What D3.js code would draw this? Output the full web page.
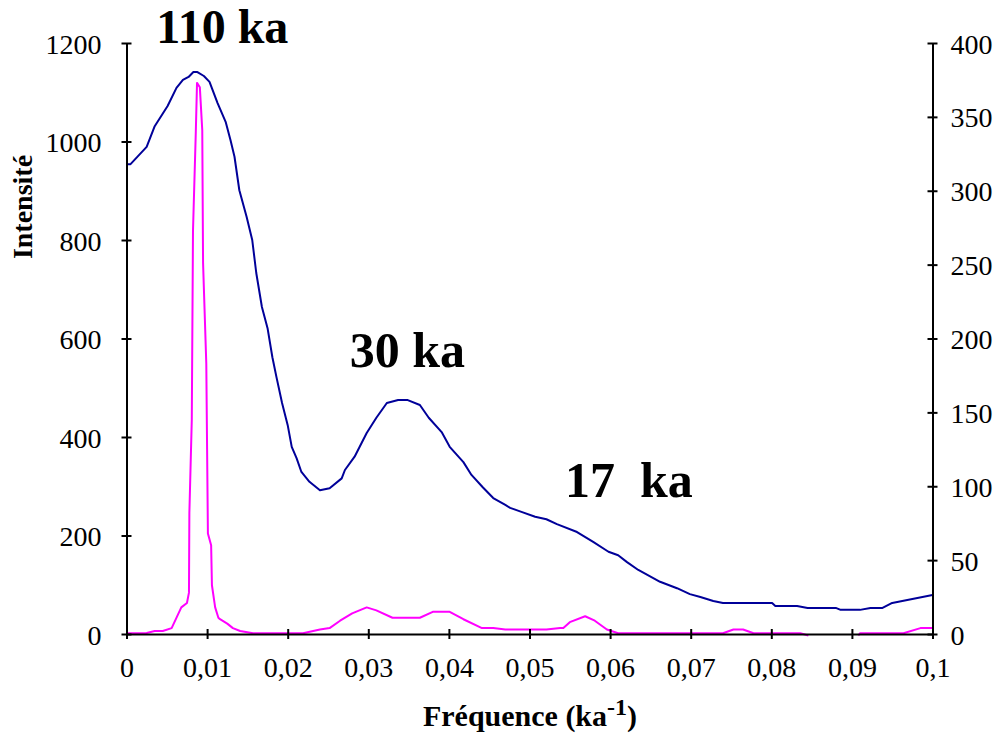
<!DOCTYPE html>
<html><head><meta charset="utf-8">
<script src="https://cdn.jsdelivr.net/npm/d3@7"></script>
<style>
html,body{margin:0;padding:0;background:#fff;}
svg{display:block;font-family:"Liberation Serif","Times New Roman",serif;}
</style>
</head><body>
<svg id="chart" width="1001" height="740"></svg>
<script>
// ---- data ----
const xTicks = [0,0.01,0.02,0.03,0.04,0.05,0.06,0.07,0.08,0.09,0.1];
const xTickLabels = ["0","0,01","0,02","0,03","0,04","0,05","0,06","0,07","0,08","0,09","0,1"];
const leftTicks = [0,200,400,600,800,1000,1200];
const rightTicks = [0,50,100,150,200,250,300,350,400];

const blueFreq = [0,0.0005,0.0025,0.0035,0.0051,0.0062,0.007,0.0077,0.0083,0.0088,0.0096,0.0103,0.0113,0.0123,0.0129,0.0134,0.014,0.0149,0.0156,0.0161,0.0168,0.0175,0.0181,0.0186,0.0193,0.02,0.0205,0.0211,0.0217,0.0227,0.024,0.0252,0.0267,0.0271,0.0283,0.0298,0.031,0.0323,0.0337,0.0349,0.0364,0.0375,0.0391,0.0401,0.0418,0.0428,0.0442,0.0455,0.047,0.0476,0.049,0.0507,0.0521,0.0534,0.0559,0.0579,0.0598,0.061,0.0621,0.0635,0.0662,0.0683,0.0699,0.0712,0.0728,0.074,0.0801,0.0805,0.0832,0.0845,0.088,0.0886,0.091,0.0923,0.0938,0.095,0.1];
const blueIntensity = [954,954,989,1031,1072,1109,1125,1131,1141,1141,1133,1121,1078,1040,1003,969,901,847,800,733,664,621,562,522,469,424,380,357,329,309,292,296,316,333,360,408,439,469,475,475,465,439,410,380,349,323,298,276,262,256,248,238,233,223,207,187,167,160,146,130,106,93,81,75,67,63,63,57,57,53,53,49,49,53,53,63,79];

const pinkFreq = [0,0.0025,0.0035,0.0045,0.0056,0.0068,0.0075,0.00775,0.0078,0.0081,0.00825,0.0086,0.00875,0.0091,0.0094,0.0095,0.0099,0.0100,0.0101,0.0105,0.0106,0.011,0.0114,0.0116,0.0125,0.0132,0.0141,0.0157,0.0219,0.024,0.0252,0.0265,0.028,0.0298,0.031,0.033,0.0364,0.038,0.0401,0.0418,0.0441,0.0455,0.047,0.0521,0.0538,0.0542,0.055,0.0569,0.0581,0.0596,0.061,0.074,0.0753,0.0765,0.0778,0.0836,0.0846,0.0877,0.0908,0.091,0.0964,0.0985,0.1];
const pinkIntensity = [0.5,0.7,2,2,4,18,21,28,82,145,273,340,373,370,341,251,183,125,68,60,33,18,11,10,7,4,2,0.5,0.5,3,4,9,14,18,16,11,11,15,15,10,4,4,3,3,4,4,8,12,9,3,0.5,0.5,3,3,0.5,0.5,-1,null,-1,0.5,0.5,4,4];

// ---- layout ----
const svg = d3.select("#chart");
const X0 = 126.5, X1 = 932.5, Y0 = 634, Y1 = 43;
const x = d3.scaleLinear().domain([0,0.1]).range([X0,X1]);
const yL = d3.scaleLinear().domain([0,1200]).range([Y0,Y1]);
const yR = d3.scaleLinear().domain([0,400]).range([Y0,Y1]);

const blueData = blueFreq.map((f,i)=>({f, v: blueIntensity[i]}));
const pinkData = pinkFreq.map((f,i)=>({f, v: pinkIntensity[i]}));

svg.append("path").datum(pinkData)
  .attr("fill","none").attr("stroke","#FF00FF").attr("stroke-width",2)
  .attr("stroke-linejoin","round")
  .attr("d", d3.line().defined(d=>d.v!==null).x(d=>x(d.f)).y(d=>yR(d.v)));

svg.append("path").datum(blueData)
  .attr("fill","none").attr("stroke","#000099").attr("stroke-width",2)
  .attr("stroke-linejoin","round")
  .attr("d", d3.line().x(d=>x(d.f)).y(d=>yL(d.v)));

function styleAxis(g){
  g.select(".domain").attr("stroke","#000").attr("stroke-width",2);
  g.selectAll(".tick line").attr("stroke","#000").attr("stroke-width",2);
  g.selectAll(".tick text").attr("fill","#000").attr("font-size",28)
    .attr("font-family","Liberation Serif");
}

const gx = svg.append("g").attr("transform",`translate(0,${Y0})`)
  .call(d3.axisBottom(x).tickValues(xTicks).tickFormat((d,i)=>xTickLabels[i]).tickSizeOuter(0).tickSizeInner(5).tickPadding(20));
styleAxis(gx);
gx.selectAll(".tick line").attr("y1",-5).attr("y2",5);
gx.selectAll(".tick text").attr("dy","0.71em").attr("y",23);

const gl = svg.append("g").attr("transform",`translate(${X0},0)`)
  .call(d3.axisLeft(yL).tickValues(leftTicks).tickFormat(d=>d).tickSizeOuter(0).tickSizeInner(5).tickPadding(25));
styleAxis(gl);
gl.selectAll(".tick line").attr("x1",-5).attr("x2",5);
gl.selectAll(".tick text").attr("x",-25).attr("dy","0.36em");

const gr = svg.append("g").attr("transform",`translate(${X1},0)`)
  .call(d3.axisRight(yR).tickValues(rightTicks).tickFormat(d=>d).tickSizeOuter(0).tickSizeInner(5).tickPadding(18));
styleAxis(gr);
gr.selectAll(".tick line").attr("x1",-5).attr("x2",5);
gr.selectAll(".tick text").attr("x",18).attr("dy","0.36em");

// axis titles
svg.append("text").attr("transform","translate(32,207) rotate(-90)")
  .attr("text-anchor","middle").attr("font-weight","bold").attr("font-size",28)
  .text("Intensité");

const xt = svg.append("text").attr("x",530).attr("y",726)
  .attr("text-anchor","middle").attr("font-weight","bold").attr("font-size",30);
xt.append("tspan").text("Fréquence (ka");
xt.append("tspan").attr("font-size",24).attr("dy",-11).text("-1");
xt.append("tspan").attr("dy",11).text(")");

// annotations
const annot = [
  {t:"110 ka", f:0.0037, v:1199, s:48},
  {t:"30 ka", f:0.0277, v:542, s:50},
  {t:"17  ka", f:0.0544, v:279, s:50}
];
svg.selectAll("text.annot").data(annot).enter().append("text")
  .attr("class","annot")
  .attr("x",d=>x(d.f)).attr("y",d=>yL(d.v))
  .attr("font-weight","bold").attr("font-size",d=>d.s)
  .style("white-space","pre")
  .text(d=>d.t);
</script>
</body></html>
